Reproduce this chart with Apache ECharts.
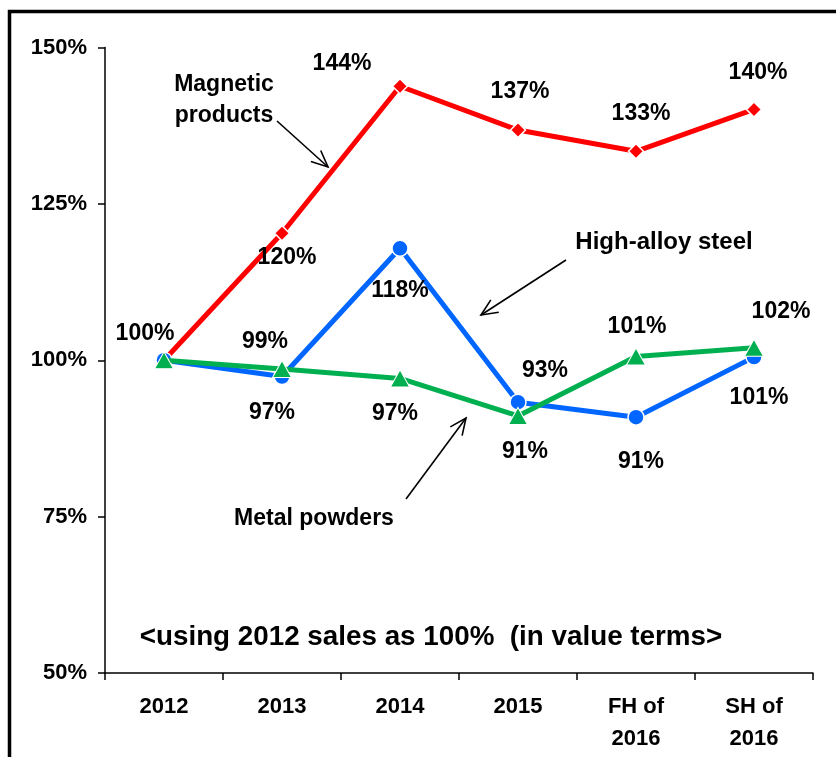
<!DOCTYPE html>
<html>
<head>
<meta charset="utf-8">
<script src="https://cdn.jsdelivr.net/npm/echarts@6/dist/echarts.min.js"></script>
<style>
html,body{margin:0;padding:0;background:#fff;}
#chart{width:836px;height:757px;}
</style>
</head>
<body>
<div id="chart"></div>
<script>
// ---- data ----
const categories = ['2012', '2013', '2014', '2015', 'FH of\n2016', 'SH of\n2016'];
const magnetic = [100, 120.3, 143.8, 136.8, 133.4, 140.1];
const highAlloy = [100, 97.4, 117.9, 93.3, 90.9, 100.5];
const metalPowders = [100, 98.6, 97.1, 91.1, 100.6, 102.0];
const yTicks = [50, 75, 100, 125, 150];

// ---- label placement (style, not data) ----
const magOffsets = [[-19, -27], [5, 24], [-58, -23], [2, -38], [5, -38], [4, -37]];
const haOffsets = [null, [-10, 36], [0, 42], [27, -32], [5, 44], [5, 41]];
const mpOffsets = [null, [-17, -27], [-5, 35], [7, 36], [1, -30], [27, -36]];

const FONT = "'Liberation Sans', Arial, sans-serif";

function buildData(values, offsets) {
  return values.map((v, i) => {
    const off = offsets[i];
    if (!off) return { value: v, label: { show: false } };
    return { value: v, label: { show: true, position: 'inside', offset: off } };
  });
}

const labelBase = {
  show: true,
  color: '#000',
  fontFamily: FONT,
  fontWeight: 'bold',
  fontSize: 23,
  formatter: p => Math.round(p.value) + '%'
};

function arrow(x1, y1, x2, y2) {
  const ang = Math.atan2(y2 - y1, x2 - x1);
  const L = 18, spread = 0.42;
  const a1 = ang + Math.PI - spread, a2 = ang + Math.PI + spread;
  const style = { stroke: '#000', lineWidth: 1.6, fill: null };
  return [
    { type: 'polyline', shape: { points: [[x1, y1], [x2, y2]] }, style: style, z: 100 },
    { type: 'polyline', shape: { points: [[x2 + L * Math.cos(a1), y2 + L * Math.sin(a1)], [x2, y2], [x2 + L * Math.cos(a2), y2 + L * Math.sin(a2)]] }, style: style, z: 100 }
  ];
}

const chart = echarts.init(document.getElementById('chart'), null, { renderer: 'canvas' });

const option = {
  backgroundColor: '#fff',
  animation: false,
  grid: { left: 105, right: 23, top: 47.5, bottom: 84, containLabel: false },
  xAxis: {
    type: 'category',
    data: categories,
    boundaryGap: true,
    axisLine: { lineStyle: { color: '#000', width: 1.5 } },
    axisTick: { show: true, length: 7, lineStyle: { color: '#000', width: 1.5 } },
    axisLabel: {
      color: '#000', fontFamily: FONT, fontWeight: 'bold', fontSize: 22,
      margin: 18, lineHeight: 32, interval: 0
    },
    splitLine: { show: false }
  },
  yAxis: {
    type: 'value',
    min: yTicks[0],
    max: yTicks[yTicks.length - 1],
    interval: 25,
    axisLine: { show: true, lineStyle: { color: '#000', width: 1.5 } },
    axisTick: { show: true, length: 7, lineStyle: { color: '#000', width: 1.5 } },
    axisLabel: {
      color: '#000', fontFamily: FONT, fontWeight: 'bold', fontSize: 22,
      margin: 18, formatter: v => v + '%'
    },
    splitLine: { show: false }
  },
  series: [
    {
      name: 'Magnetic products', type: 'line',
      data: buildData(magnetic, magOffsets),
      symbol: 'diamond', symbolSize: 15,
      lineStyle: { color: '#FF0000', width: 5 },
      itemStyle: { color: '#FF0000', borderColor: '#fff', borderWidth: 1.5 },
      label: labelBase, z: 2
    },
    {
      name: 'High-alloy steel', type: 'line',
      data: buildData(highAlloy, haOffsets),
      symbol: 'circle', symbolSize: 16,
      lineStyle: { color: '#0066FF', width: 5 },
      itemStyle: { color: '#0066FF', borderColor: '#fff', borderWidth: 1.5 },
      label: labelBase, z: 3
    },
    {
      name: 'Metal powders', type: 'line',
      data: buildData(metalPowders, mpOffsets),
      symbol: 'triangle', symbolSize: [19, 17],
      lineStyle: { color: '#00B050', width: 5 },
      itemStyle: { color: '#00B050', borderColor: '#fff', borderWidth: 1 },
      label: labelBase, z: 4
    }
  ],
  graphic: [
    { type: 'rect', shape: { x: 9.5, y: 11.5, width: 900, height: 900 }, style: { fill: null, stroke: '#000', lineWidth: 3.5 }, z: 200, silent: true },
    { type: 'text', x: 224, y: 100, style: { text: 'Magnetic\nproducts', fill: '#000', font: 'bold 23px ' + FONT, align: 'center', verticalAlign: 'middle', lineHeight: 31 }, z: 100 },
    { type: 'text', x: 664, y: 242, style: { text: 'High-alloy steel', fill: '#000', font: 'bold 24px ' + FONT, align: 'center', verticalAlign: 'middle' }, z: 100 },
    { type: 'text', x: 314, y: 519, style: { text: 'Metal powders', fill: '#000', font: 'bold 23px ' + FONT, align: 'center', verticalAlign: 'middle' }, z: 100 },
    { type: 'text', x: 431, y: 637, style: { text: '<using 2012 sales as 100%  (in value terms>', fill: '#000', font: 'bold 27.8px ' + FONT, align: 'center', verticalAlign: 'middle' }, z: 100 },
    ...arrow(277, 121, 328, 167),
    ...arrow(566, 260, 481, 315),
    ...arrow(406, 499, 466, 418)
  ]
};

chart.setOption(option);
</script>
</body>
</html>
